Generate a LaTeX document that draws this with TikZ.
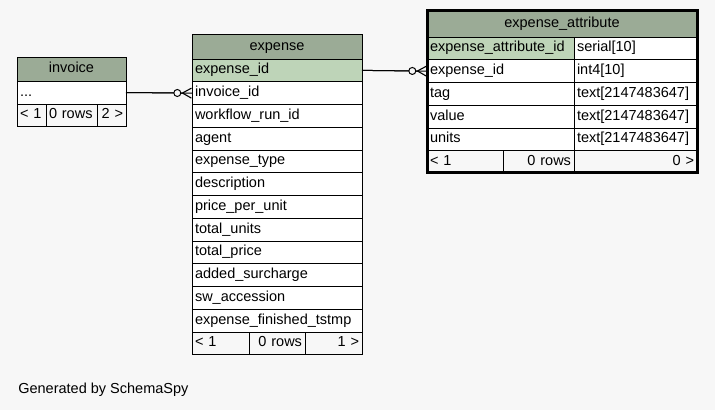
\documentclass[tikz,border=0pt]{standalone}
\usepackage{fontspec}
\setmainfont{Liberation Sans}
\usetikzlibrary{positioning,arrows.meta}
\definecolor{hdrgreen}{HTML}{9BAB96}
\definecolor{keygreen}{HTML}{BED4B8}
\definecolor{pagegray}{HTML}{F7F7F7}
\begin{document}
\begin{tikzpicture}[
		x=1pt, y=-1pt,
		every node/.style={outer sep=0pt, font=\fontsize{14.5}{17}\selectfont},
		cell/.style={draw=black, line width=0.9pt, fill=white, text width=#1, align=left, inner xsep=3pt, inner ysep=0pt, minimum height=22.75pt, text height=10.5pt, text depth=3.5pt},
		hdr/.style={cell=#1, fill=hdrgreen, align=center, minimum height=25pt},
		keycell/.style={cell=#1, fill=keygreen},
		foot/.style={cell=#1, fill=pagegray, minimum height=22pt},
		footr/.style={foot=#1, align=right},
		crow/.style={line width=1pt, -{Circle[length=8pt, width=8pt, fill=pagegray, line width=1pt] Straight Barb[reversed, length=9pt, width=10pt, line width=1.1pt]}}
		]
		\fill[pagegray] (0,0) rectangle (715,410);
		
		% invoice
		\node[hdr=103, minimum height=24pt] (inv-head) at (71.5,69) {invoice};
		\node[cell=103, minimum height=23pt, below=0pt of inv-head] (inv-row) {...};
		\node[foot=23, anchor=north west] (inv-f1) at (inv-row.south west) {< 1};
		\node[foot=45, right=0pt of inv-f1] (inv-f2) {0 rows};
		\node[footr=23, right=0pt of inv-f2] (inv-f3) {2 >};
		
		% expense
		\node[hdr=164] (exp-head) at (277,46.5) {expense};
		\node[keycell=164, below=0pt of exp-head] (exp-id) {expense\_id};
		\node[cell=164, below=0pt of exp-id] (exp-invoice) {invoice\_id};
		\node[cell=164, below=0pt of exp-invoice] (exp-run) {workflow\_run\_id};
		\node[cell=164, below=0pt of exp-run] (exp-agent) {agent};
		\node[cell=164, below=0pt of exp-agent] (exp-type) {expense\_type};
		\node[cell=164, below=0pt of exp-type] (exp-desc) {description};
		\node[cell=164, below=0pt of exp-desc] (exp-ppu) {price\_per\_unit};
		\node[cell=164, below=0pt of exp-ppu] (exp-units) {total\_units};
		\node[cell=164, below=0pt of exp-units] (exp-price) {total\_price};
		\node[cell=164, below=0pt of exp-price] (exp-sur) {added\_surcharge};
		\node[cell=164, below=0pt of exp-sur] (exp-acc) {sw\_accession};
		\node[cell=164, below=0pt of exp-acc] (exp-tstmp) {expense\_finished\_tstmp};
		\node[foot=51, anchor=north west] (exp-f1) at (exp-tstmp.south west) {< 1};
		\node[footr=50, right=0pt of exp-f1] (exp-f2) {0 rows};
		\node[footr=51, right=0pt of exp-f2] (exp-f3) {1 >};
		
		% expense_attribute
		\node[hdr=264, minimum height=27pt] (attr-head) at (562,23.5) {expense\_attribute};
		\node[keycell=141, anchor=north west] (attr-id) at (attr-head.south west) {expense\_attribute\_id};
		\node[cell=141, below=0pt of attr-id] (attr-eid) {expense\_id};
		\node[cell=141, below=0pt of attr-eid] (attr-tag) {tag};
		\node[cell=141, below=0pt of attr-tag] (attr-value) {value};
		\node[cell=141, below=0pt of attr-value] (attr-units) {units};
		\node[cell=117, right=0pt of attr-id] (attr-id-t) {serial[10]};
		\node[cell=117, right=0pt of attr-eid] (attr-eid-t) {int4[10]};
		\node[cell=117, right=0pt of attr-tag] (attr-tag-t) {text[2147483647]};
		\node[cell=117, right=0pt of attr-value] (attr-value-t) {text[2147483647]};
		\node[cell=117, right=0pt of attr-units] (attr-units-t) {text[2147483647]};
		\node[foot=70, anchor=north west] (attr-f1) at (attr-units.south west) {< 1};
		\node[footr=65, right=0pt of attr-f1] (attr-f2) {0 rows};
		\node[footr=117, right=0pt of attr-f2] (attr-f3) {0 >};
		\draw[line width=3pt] (attr-head.north west) rectangle (attr-f3.south east);
		
		\draw[line width=1pt] (inv-row.east) -- (exp-invoice.west);
		\draw[crow] (inv-row.east) -- (exp-invoice.west);
		\draw[line width=1pt] (exp-id.east) -- (attr-eid.west);
		\draw[crow] (exp-id.east) -- (attr-eid.west);
		
		\node[anchor=west] (credit) at (15,390) {Generated by SchemaSpy};
	\end{tikzpicture}
\end{document}
